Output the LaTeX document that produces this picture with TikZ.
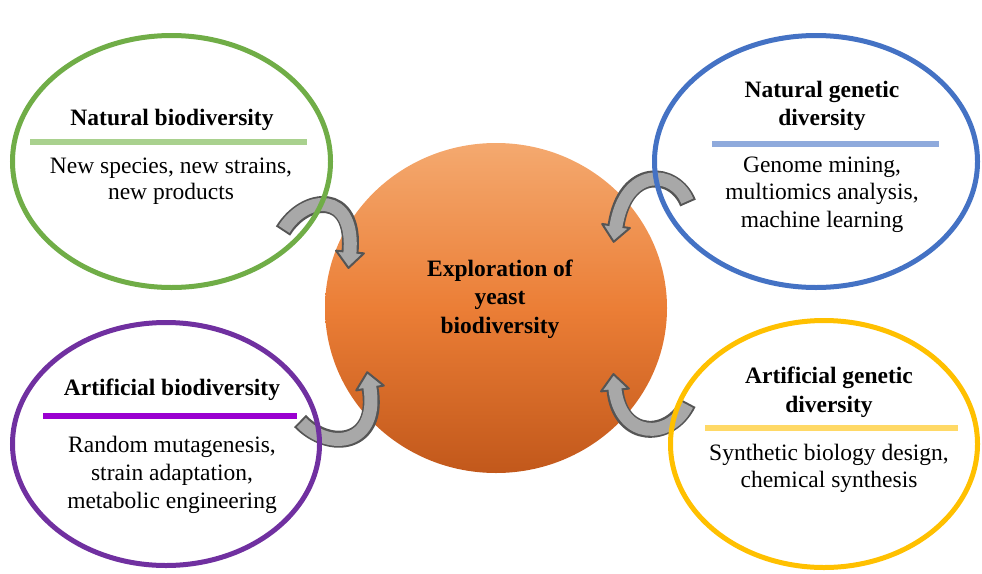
\documentclass[tikz,border=0pt]{standalone}
\usepackage{fontspec}
\setmainfont{Liberation Serif}
\usetikzlibrary{calc,shapes.geometric}
\definecolor{cgreen}{HTML}{70AD47}
\definecolor{cgreenbar}{HTML}{A9D18E}
\definecolor{cblue}{HTML}{4472C4}
\definecolor{cbluebar}{HTML}{8FAADC}
\definecolor{cpurple}{HTML}{7030A0}
\definecolor{cpurplebar}{HTML}{9A00D0}
\definecolor{cyellow}{HTML}{FFC000}
\definecolor{cyellowbar}{HTML}{FFD966}
\definecolor{orangetop}{HTML}{F4A96F}
\definecolor{orangemid}{HTML}{EB7E36}
\definecolor{orangebot}{HTML}{C2581B}
\definecolor{arrline}{HTML}{555555}
\definecolor{arrfill}{HTML}{A8A8A8}
\newcommand\blockarrow[4]{%
  \draw[line width=17pt, draw=arrline] (#1) .. controls (#2) and (#3) .. (#4);
  \filldraw[fill=arrfill, draw=arrline, line width=2pt, line join=round]
    ($(#4)!-16pt!(#3)$) -- ($(#4)!14pt!90:(#3)$) -- ($(#4)!14pt!-90:(#3)$) -- cycle;
  \draw[line width=13pt, draw=arrfill, shorten <=2pt, shorten >=-2.5pt] (#1) .. controls (#2) and (#3) .. (#4);
}
\tikzset{
  bubble/.style={ellipse, line width=5pt, inner sep=0pt, fill=none},
  title/.style={font=\fontsize{23.5}{28}\selectfont\bfseries, anchor=base, inner sep=0pt},
  body/.style={font=\fontsize{23.5}{28}\selectfont, anchor=base, inner sep=0pt},
  bar/.style={line width=6pt}
}
\begin{document}
\begin{tikzpicture}[x=1pt,y=-1pt]
\useasboundingbox (0,0) rectangle (982,573);
% central circle
\node[ellipse, minimum width=342pt, minimum height=330pt, inner sep=0pt,
      top color=orangetop, bottom color=orangebot, middle color=orangemid] (core) at (496,308) {};
% curved arrows
\coordinate (a1s) at (283,231); \coordinate (a1a) at (305,195); \coordinate (a1b) at (356,190); \coordinate (a1e) at (350,252);
\coordinate (a2s) at (300,421); \coordinate (a2a) at (330,452); \coordinate (a2b) at (380,445); \coordinate (a2e) at (370,388);
\coordinate (a3s) at (688,203); \coordinate (a3a) at (675,170); \coordinate (a3b) at (625,165); \coordinate (a3e) at (616,226);
\coordinate (a4s) at (688,403); \coordinate (a4a) at (670,440); \coordinate (a4b) at (620,440); \coordinate (a4e) at (615,390);
\blockarrow{a1s}{a1a}{a1b}{a1e}
\blockarrow{a2s}{a2a}{a2b}{a2e}
\blockarrow{a3s}{a3a}{a3b}{a3e}
\blockarrow{a4s}{a4a}{a4b}{a4e}
% ellipses
\node[bubble, draw=cgreen, minimum width=318pt, minimum height=252pt] (green) at (171.5,161.5) {};
\node[bubble, draw=cblue, minimum width=323pt, minimum height=252pt] (blue) at (816,161.5) {};
\node[bubble, draw=cpurple, minimum width=307pt, minimum height=243pt] (purple) at (166,444) {};
\node[bubble, draw=cyellow, minimum width=307pt, minimum height=247pt] (yellow) at (824,444) {};
% bars
\draw[bar, cgreenbar] (30,142) -- (307,142);
\draw[bar, cbluebar] (712,144) -- (939,144);
\draw[bar, cpurplebar] (43,416) -- (297,416);
\draw[bar, cyellowbar] (705,428) -- (958,428);
% green texts
\node[title] (g1) at (172,125) {Natural biodiversity};
\node[body] (g2) at (171,173) {New species, new strains,};
\node[body] (g3) at (171,199) {new products};
% blue texts
\node[title] (b1) at (822,97) {Natural genetic};
\node[title] (b2) at (822,125) {diversity};
\node[body] (b3) at (822,172) {Genome mining,};
\node[body] (b4) at (822,199) {multiomics analysis,};
\node[body] (b5) at (822,227) {machine learning};
% purple texts
\node[title] (p1) at (172,395) {Artificial biodiversity};
\node[body] (p2) at (172,452) {Random mutagenesis,};
\node[body] (p3) at (172,480) {strain adaptation,};
\node[body] (p4) at (172,508) {metabolic engineering};
% yellow texts
\node[title] (y1) at (829,383) {Artificial genetic};
\node[title] (y2) at (829,412) {diversity};
\node[body] (y3) at (829,460) {Synthetic biology design,};
\node[body] (y4) at (829,487) {chemical synthesis};
% centre texts
\node[title] (c1) at (500,276) {Exploration of};
\node[title] (c2) at (500,304) {yeast};
\node[title] (c3) at (500,333) {biodiversity};
\end{tikzpicture}
\end{document}
